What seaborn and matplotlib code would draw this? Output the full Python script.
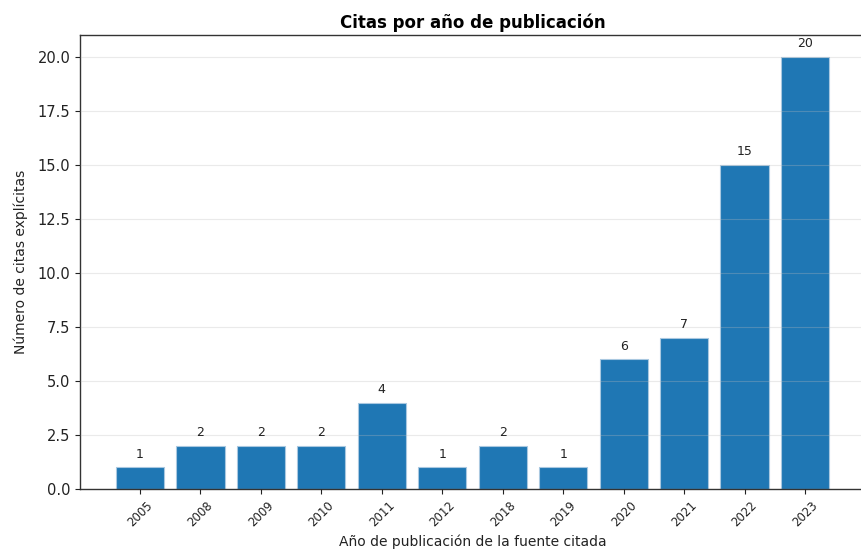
import matplotlib
matplotlib.use("Agg")
import matplotlib.pyplot as plt
import seaborn as sns
import pandas as pd

years = ["2005", "2008", "2009", "2010", "2011", "2012", "2018", "2019", "2020", "2021", "2022", "2023"]
citas = [1, 2, 2, 2, 4, 1, 2, 1, 6, 7, 15, 20]

df = pd.DataFrame({"year": years, "citas": citas})

fig = plt.figure(figsize=(8.61, 5.52), dpi=100)
ax = fig.add_axes([80/861, 63/552, 785/861, 454/552])

sns.barplot(data=df, x="year", y="citas", order=years, color="#1f77b4",
            saturation=1, width=0.8, edgecolor="#a9c8e0", linewidth=0.8, ax=ax)

ax.set_xlim(-0.99, 11.99)
ax.set_ylim(0, 21)
ax.set_yticks([0, 2.5, 5, 7.5, 10, 12.5, 15, 17.5, 20])
ax.set_yticklabels(["0.0", "2.5", "5.0", "7.5", "10.0", "12.5", "15.0", "17.5", "20.0"])
ax.grid(axis="y", color="#bbbbbb", alpha=0.3, linewidth=0.8)
ax.set_axisbelow(False)
for s in ax.spines.values():
    s.set_color("#333333")
    s.set_linewidth(1.0)

for i, v in enumerate(citas):
    ax.text(i, v + 0.3, str(v), ha="center", va="bottom", fontsize=9, color="#222222")

ax.tick_params(axis="x", labelsize=8.5, rotation=45, colors="#222222")
ax.tick_params(axis="y", labelsize=10.5, colors="#222222")
ax.set_xlabel("Año de publicación de la fuente citada", fontsize=10, color="#222222")
ax.set_ylabel("Número de citas explícitas", fontsize=10, labelpad=7, color="#222222")
ax.set_title("Citas por año de publicación", fontsize=12, fontweight="bold", pad=5)

fig.savefig("out.png", dpi=100)
